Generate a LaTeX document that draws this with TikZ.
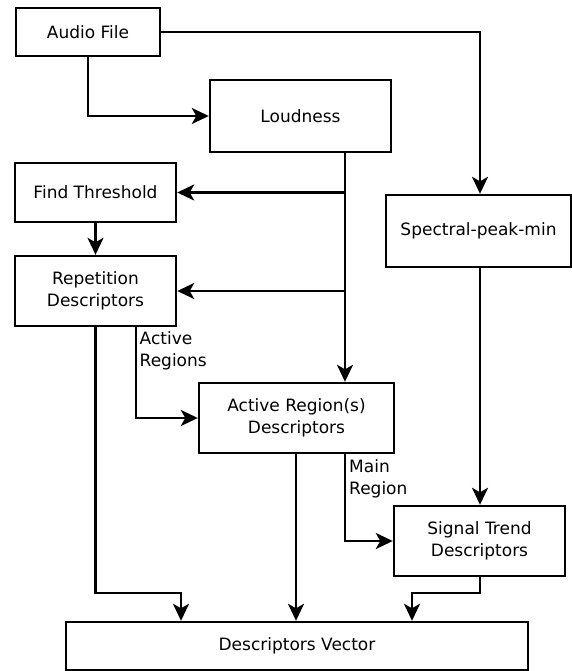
\documentclass[tikz,border=0pt]{standalone}
\usepackage{fontspec}
\setmainfont{DejaVu Sans}
\usetikzlibrary{arrows.meta}
\begin{document}
\begin{tikzpicture}[x=1pt,y=-1pt,
  box/.style={draw, line width=2.4pt, rectangle, inner sep=0pt, align=center,
    font=\fontsize{17}{21.5}\selectfont},
  conn/.style={line width=2.4pt, -{Stealth[length=17pt,width=16pt,inset=4.5pt]}},
  lbl/.style={inner sep=0pt, align=left, anchor=west, font=\fontsize{17}{21.5}\selectfont}]
\useasboundingbox (0,0) rectangle (572,671);
\node[box, minimum width=144pt, minimum height=48pt] (audio) at (88,32) {Audio File};
\node[box, minimum width=181pt, minimum height=72pt] (loud) at (300.5,116) {Loudness};
\node[box, minimum width=161pt, minimum height=59pt] (find) at (95.5,192.5) {Find Threshold};
\node[box, minimum width=161pt, minimum height=70pt] (rep) at (95.5,291) {Repetition\\Descriptors};
\node[box, minimum width=185pt, minimum height=72pt] (spec) at (478.5,231) {Spectral-peak-min};
\node[box, minimum width=195pt, minimum height=70pt] (active) at (296.5,418) {Active Region(s)\\Descriptors};
\node[box, minimum width=171pt, minimum height=70pt] (trend) at (479.5,541) {Signal Trend\\Descriptors};
\node[box, minimum width=462pt, minimum height=48pt] (vec) at (297,646) {Descriptors Vector};
% connectors
\draw[conn] (audio.east) -| (spec.north -| 480,0);
\draw[conn] (audio.south -| 88,0) |- (loud.west);
\coordinate (lx) at (345,0);
\draw[conn] (loud.south -| lx) -- (active.north -| lx);
\draw[conn] (find.east -| lx) -- (find.east);
\draw[conn] (rep.east -| lx) -- (rep.east);
\draw[conn] (find.south) -- (rep.north);
\draw[conn] (rep.south -| 136,0) |- (active.west);
\node[lbl] (lblA) at (139.5,351) {Active\\Regions};
\draw[conn] (rep.south) -- (95.5,593) -| (vec.north -| 181,0);
\draw[conn] (active.south -| 296,0) -- (vec.north -| 296,0);
\draw[conn] (active.south -| lx) |- (trend.west);
\node[lbl] (lblM) at (349,479) {Main\\Region};
\draw[conn] (spec.south -| 480,0) -- (trend.north -| 480,0);
\draw[conn] (trend.south -| 480,0) -- (480,593) -| (vec.north -| 412,0);
\end{tikzpicture}
\end{document}
